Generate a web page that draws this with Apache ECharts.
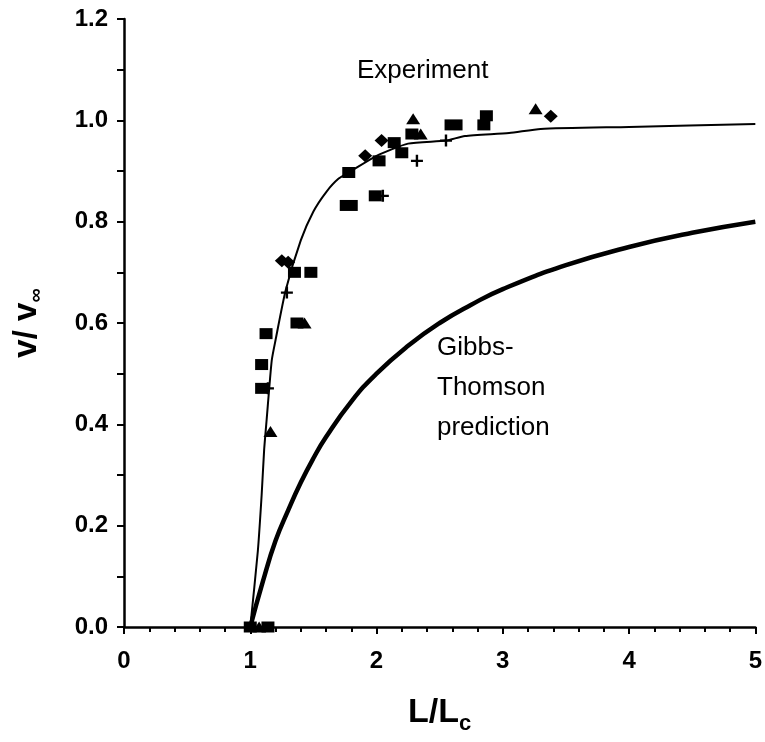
<!DOCTYPE html>
<html>
<head>
<meta charset="utf-8">
<script src="https://cdn.jsdelivr.net/npm/echarts@6/dist/echarts.min.js"></script>
<style>html,body{margin:0;padding:0;background:#fff;}#c{width:765px;height:742px;}</style>
</head>
<body>
<div id="c"></div>
<script>
// Fitted experiment curve (thin line)
const fitX = [1.0, 1.06, 1.09, 1.11, 1.13, 1.17, 1.2, 1.28, 1.4, 1.5, 1.6, 1.7, 1.8, 2.0, 2.25, 2.55, 2.7, 3.05, 3.3, 4.0, 5.0];
const fitY = [0.0, 0.15, 0.26, 0.35, 0.41, 0.526, 0.566, 0.664, 0.763, 0.82, 0.858, 0.885, 0.9, 0.93, 0.954, 0.96, 0.969, 0.975, 0.983, 0.987, 0.993];
// Gibbs-Thomson prediction (thick line)
const gibbsX = [1.0, 1.1, 1.2, 1.3, 1.4, 1.5, 1.6, 1.8, 2.0, 2.25, 2.5, 2.75, 3.0, 3.5, 4.0, 4.5, 5.0];
const gibbsY = [0.0, 0.09, 0.17, 0.23, 0.285, 0.333, 0.375, 0.445, 0.5, 0.555, 0.6, 0.636, 0.667, 0.714, 0.75, 0.778, 0.8];
// Experimental markers
const squareX = [1.0, 1.14, 1.09, 1.09, 1.125, 1.35, 1.48, 1.37, 1.99, 1.78, 2.02, 2.14, 2.2, 2.28, 2.85, 2.87];
const squareY = [0.0, 0.0, 0.518, 0.471, 0.579, 0.70, 0.70, 0.60, 0.851, 0.897, 0.92, 0.956, 0.936, 0.973, 0.991, 1.009];
const rectX = [1.78, 2.61];
const rectY = [0.832, 0.991];
const triX = [1.07, 1.16, 1.43, 2.29, 2.35, 3.26];
const triY = [0.0, 0.386, 0.60, 1.003, 0.973, 1.023];
const diamondX = [1.25, 1.3, 1.91, 2.04, 3.38];
const diamondY = [0.723, 0.72, 0.93, 0.96, 1.008];
const plusX = [1.29, 2.32, 2.55, 2.05, 1.14];
const plusY = [0.66, 0.92, 0.96, 0.851, 0.471];
// Axis ticks
const xMin = 0, xMax = 5, xStep = 1;
const yMin = 0, yMax = 1.2, yStep = 0.2;

const zip = (a, b) => a.map((v, i) => [v, b[i]]);
const chart = echarts.init(document.getElementById('c'), null, {renderer: 'canvas'});
const FONT = '"Liberation Sans", Arial, sans-serif';
const mk = (name, sym, size, xs, ys) => ({
  name, type: 'scatter', symbol: sym, symbolSize: size,
  data: zip(xs, ys), itemStyle: {color: '#000', opacity: 1}, z: 5, silent: true
});
chart.setOption({
  backgroundColor: '#fff',
  animation: false,
  grid: {left: 124, right: 8, top: 19, bottom: 115, containLabel: false},
  xAxis: {
    type: 'value', min: xMin, max: xMax, interval: xStep,
    name: '{a|L/L}{b|c}', nameLocation: 'middle', nameGap: 64,
    nameTextStyle: {rich: {
      a: {fontFamily: FONT, fontWeight: 'bold', fontSize: 34, color: '#000'},
      b: {fontFamily: FONT, fontWeight: 'bold', fontSize: 22, color: '#000', padding: [22, 0, 0, 0]}
    }},
    axisLine: {show: true, onZero: false, lineStyle: {color: '#000', width: 2.5}},
    axisTick: {show: true, length: 7, lineStyle: {color: '#000', width: 2}},
    minorTick: {show: true, splitNumber: 5, length: 5, lineStyle: {color: '#000', width: 2}},
    axisLabel: {fontFamily: FONT, fontWeight: 'bold', fontSize: 24, color: '#000', margin: 22},
    splitLine: {show: false}
  },
  yAxis: {
    type: 'value', min: yMin, max: yMax, interval: yStep,
    name: '{a|v/ v}{b|∞}', nameLocation: 'middle', nameGap: 78, nameRotate: 90,
    nameTextStyle: {rich: {
      a: {fontFamily: FONT, fontWeight: 'bold', fontSize: 33, color: '#000'},
      b: {fontFamily: FONT, fontWeight: 'bold', fontSize: 20, color: '#000', padding: [18, 0, 0, 0]}
    }},
    axisLine: {show: true, onZero: false, lineStyle: {color: '#000', width: 2.5}},
    axisTick: {show: true, length: 7, lineStyle: {color: '#000', width: 2}},
    minorTick: {show: true, splitNumber: 2, length: 7, lineStyle: {color: '#000', width: 2}},
    axisLabel: {fontFamily: FONT, fontWeight: 'bold', fontSize: 24, color: '#000', margin: 16,
      formatter: v => v.toFixed(1)},
    splitLine: {show: false}
  },
  series: [
    {name: 'fit', type: 'line', data: zip(fitX, fitY), showSymbol: false, smooth: 0.2,
     lineStyle: {color: '#000', width: 2}, z: 3, silent: true},
    {name: 'gibbs', type: 'line', data: zip(gibbsX, gibbsY), showSymbol: false, smooth: true,
     lineStyle: {color: '#000', width: 4.5}, z: 3, silent: true},
    mk('sq', 'rect', [13, 11], squareX, squareY),
    mk('rect', 'rect', [18, 11], rectX, rectY),
    mk('tri', 'triangle', [14, 11], triX, triY),
    mk('dia', 'diamond', [14, 13], diamondX, diamondY),
    mk('plus', 'path://M4,0H6V4H10V6H6V10H4V6H0V4H4Z', [12, 12], plusX, plusY)
  ],
  graphic: [
    {type: 'text', left: 357, top: 58, style: {text: 'Experiment', font: '26px ' + FONT, fill: '#000'}},
    {type: 'text', left: 437, top: 328, style: {text: 'Gibbs-\nThomson\nprediction', font: '26px ' + FONT, fill: '#000', lineHeight: 40}}
  ]
});
</script>
</body>
</html>
